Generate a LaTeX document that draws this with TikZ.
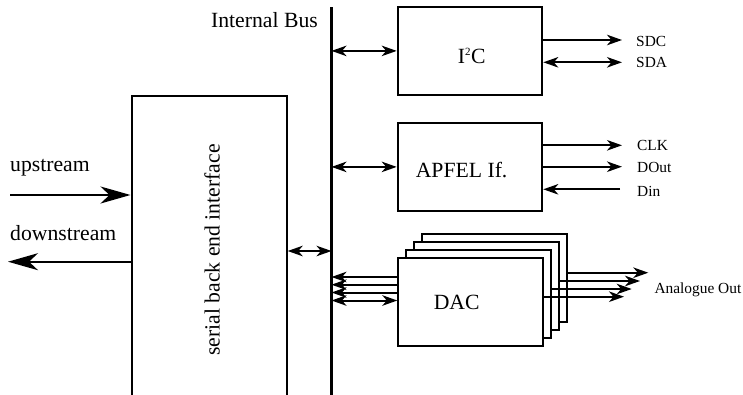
\documentclass[tikz,border=0pt]{standalone}
\usepackage{fontspec}
\setmainfont{Liberation Serif}
\usetikzlibrary{arrows.meta}
\tikzset{
  box/.style={draw, line width=2pt, fill=white, inner sep=0pt},
  big/.style={font=\fontsize{21.7}{26}\selectfont, inner sep=0pt},
  small/.style={font=\fontsize{15.4}{18}\selectfont, inner sep=0pt},
  conn/.style={line width=2pt},
  sa/.tip={Stealth[length=15pt,width=10.5pt,inset=4.5pt]},
  ba/.tip={Stealth[length=30pt,width=17pt,inset=9pt]},
}
\begin{document}
\begin{tikzpicture}[x=1pt,y=-1pt]
\useasboundingbox (0,0) rectangle (743,394);
% bus
\coordinate (bustop) at (331.5,7);
\coordinate (busbot) at (331.5,396);
\draw[line width=3.5pt] (bustop) -- (busbot);
\node[big, anchor=base east] (bustxt) at (318,27) {Internal Bus};
% serial box
\node[box, minimum width=155.2pt, minimum height=300pt] (serial) at (209.1,245.5) {};
\node[big, rotate=90] (serialtxt) at (212,250) {serial back end interface};
% I2C
\node[box, minimum width=144.6pt, minimum height=88.3pt] (i2c) at (470,50.9) {};
\node[big, anchor=base] (i2ctxt) at (471.7,63.3) {I\textsuperscript{\fontsize{11}{12}\selectfont 2}C};
% APFEL
\node[box, minimum width=144.6pt, minimum height=88.3pt] (apfel) at (470,166.9) {};
\node[big, anchor=base] (apfeltxt) at (461.6,177.7) {APFEL If.};
% DAC stack
\node[box, minimum width=144.4pt, minimum height=88.3pt] (dacd) at (494.5,277.85) {};
\node[box, minimum width=144.4pt, minimum height=88.3pt] (dacc) at (486.5,285.85) {};
\node[box, minimum width=144.4pt, minimum height=88.3pt] (dacb) at (478.5,293.85) {};
\node[box, minimum width=144.4pt, minimum height=88.3pt] (daca) at (470.5,301.85) {};
\node[big, anchor=base] (dactxt) at (456.7,309.3) {DAC};
% bus connections
\draw[conn, sa-sa] (bustop |- i2c.west) -- (i2c.west);
\draw[conn, sa-sa] (bustop |- apfel.west) -- (apfel.west);
\coordinate (sbus) at (331.5,251);
\draw[conn, sa-sa] (serial.east |- sbus) -- (sbus);
\coordinate (d1) at (331.5,277);
\coordinate (d2) at (331.5,284.7);
\coordinate (d3) at (331.5,292.5);
\coordinate (d4) at (331.5,300.5);
\draw[conn, sa-] (d1) -- (daca.west |- d1);
\draw[conn, sa-] (d2) -- (daca.west |- d2);
\draw[conn, sa-] (d3) -- (daca.west |- d3);
\draw[conn, sa-sa] (d4) -- (daca.west |- d4);
% I2C signals
\coordinate (sdcend) at (622,40);
\coordinate (sdaend) at (622,62.3);
\draw[conn, -sa] (i2c.east |- sdcend) -- (sdcend);
\draw[conn, sa-sa] (i2c.east |- sdaend) -- (sdaend);
\node[small, anchor=base west] (sdc) at (636,46) {SDC};
\node[small, anchor=base west] (sda) at (636,67.3) {SDA};
% APFEL signals
\coordinate (clkend) at (622,145.3);
\coordinate (doutend) at (622,166.7);
\coordinate (dinstart) at (620,189.3);
\draw[conn, -sa] (apfel.east |- clkend) -- (clkend);
\draw[conn, -sa] (apfel.east |- doutend) -- (doutend);
\draw[conn, -sa] (dinstart) -- (apfel.east |- dinstart);
\node[small, anchor=base west] (clk) at (637,150.7) {CLK};
\node[small, anchor=base west] (dout) at (637,172.7) {DOut};
\node[small, anchor=base west] (din) at (637,196) {Din};
% analogue out
\coordinate (a4) at (648.3,272.7);
\coordinate (a3) at (640,281);
\coordinate (a2) at (631.7,289);
\coordinate (a1) at (624,296.7);
\draw[conn, -sa] (dacd.east |- a4) -- (a4);
\draw[conn, -sa] (dacc.east |- a3) -- (a3);
\draw[conn, -sa] (dacb.east |- a2) -- (a2);
\draw[conn, -sa] (daca.east |- a1) -- (a1);
\node[small, anchor=base west] (aout) at (654.3,293.3) {Analogue Out};
% upstream / downstream
\coordinate (upstart) at (10,195);
\coordinate (dnend) at (8,261.7);
\draw[conn, -ba] (upstart) -- (serial.west |- upstart);
\draw[conn, -ba] (serial.west |- dnend) -- (dnend);
\node[big, anchor=base west] (uptxt) at (10,171.7) {upstream};
\node[big, anchor=base west] (dntxt) at (10,240) {downstream};
\end{tikzpicture}
\end{document}
